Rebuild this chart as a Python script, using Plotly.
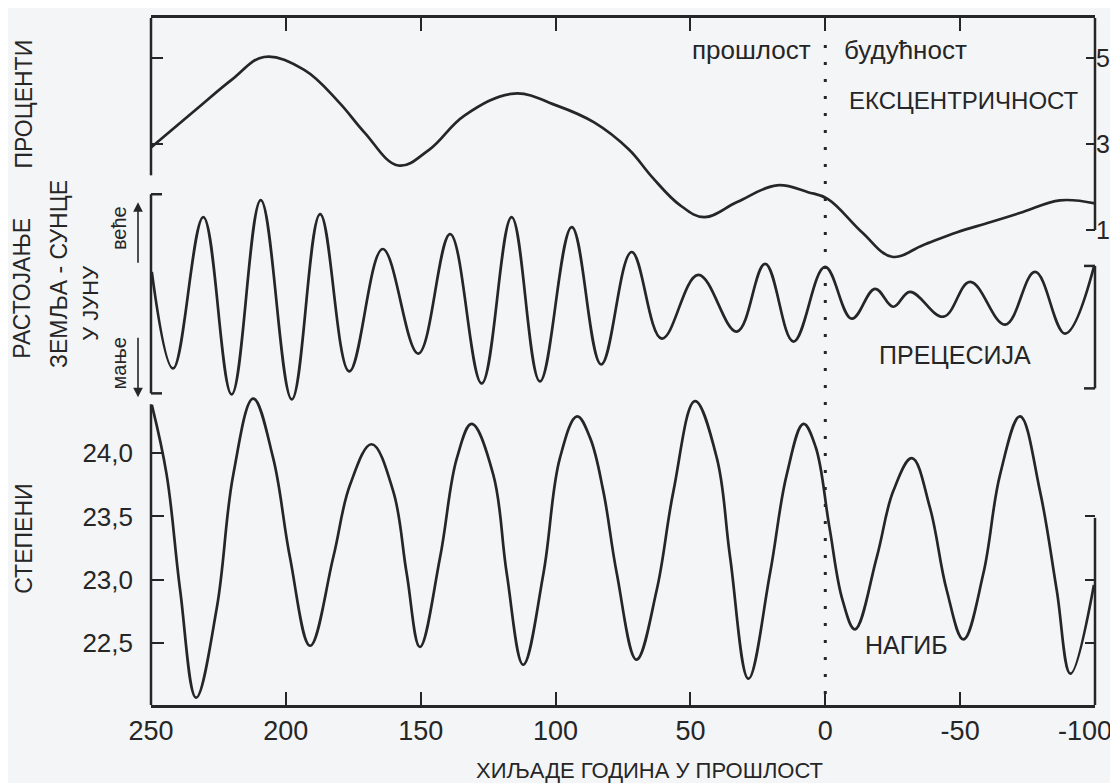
import plotly.graph_objects as go

# ---------------- data ----------------
x_tick_vals = [250, 200, 150, 100, 50, 0, -50, -100]
x_tick_text = ["250", "200", "150", "100", "50", "0", "-50", "-100"]

ecc_years = [250, 233.3, 219.9, 208.1, 193.2, 180.2, 170.9, 158.3, 146.8, 133.8,
             115.3, 99.5, 85.7, 72.8, 64.2, 53.9, 44.9, 32.7, 17.9, 6.4, -1.0,
             -13.6, -24.8, -36.2, -48.9, -61.1, -73.3, -87.0, -100]
ecc_values = [2.92, 3.80, 4.50, 5.02, 4.72, 3.96, 3.27, 2.50, 2.87, 3.66,
              4.17, 3.89, 3.50, 2.87, 2.23, 1.58, 1.30, 1.65, 2.04, 1.88, 1.72,
              0.95, 0.38, 0.65, 0.95, 1.18, 1.42, 1.69, 1.62]
ecc_ticks = [1, 3, 5]

prec_years = [249.7, 241.8, 230.6, 220.1, 209.3, 197.8, 187.3, 176.5, 164.1, 150.9,
              139.1, 127.4, 116.3, 105.8, 94.0, 83.1, 71.8, 60.6, 47.1, 32.8,
              22.3, 11.8, 0.1, -9.8, -18.4, -25.2, -31.4, -43.8, -53.7, -66.7,
              -77.8, -88.9, -99.6]
prec_values = [0.22, -0.75, 0.77, -1.01, 0.94, -1.06, 0.80, -0.78, 0.45, -0.60,
               0.60, -0.90, 0.77, -0.88, 0.67, -0.71, 0.42, -0.45, 0.19, -0.38,
               0.30, -0.48, 0.27, -0.25, 0.05, -0.13, 0.02, -0.23, 0.12, -0.31,
               0.22, -0.40, 0.27]

obl_years = [249.7, 244.2, 239.2, 233.3, 225.6, 219.5, 212.1, 204.7, 198.5, 191.0,
             182.4, 176.2, 168.2, 160.2, 155.2, 150.3, 142.8, 136.6, 131.1, 123.1,
             118.1, 112.0, 104.5, 98.4, 92.0, 87.2, 82.3, 77.3, 70.0, 62.5,
             56.3, 48.3, 40.2, 35.3, 28.5, 20.5, 14.3, 8.1, 3.6, -1.5,
             -6.4, -11.0, -19.1, -25.2, -32.1, -38.8, -45.0, -51.2, -58.6, -64.8,
             -72.2, -79.6, -85.8, -90.9, -99.6]
obl_values = [24.38, 23.83, 22.92, 22.07, 22.78, 23.83, 24.43, 23.96, 23.18, 22.48,
              23.18, 23.75, 24.07, 23.70, 23.05, 22.47, 23.18, 23.96, 24.23, 23.83,
              23.05, 22.33, 23.05, 23.96, 24.29, 24.12, 23.70, 23.05, 22.37, 22.92,
              23.70, 24.41, 23.96, 23.18, 22.22, 23.05, 23.83, 24.23, 24.05, 23.42,
              22.84, 22.61, 23.18, 23.70, 23.96, 23.57, 22.92, 22.53, 23.05, 23.83,
              24.29, 23.70, 22.92, 22.26, 22.96]
obl_ticks = [22.5, 23.0, 23.5, 24.0]
obl_tick_text = ["22,5", "23,0", "23,5", "24,0"]

# ---------------- layout geometry ----------------
# the page body has an 8px margin, so the figure is 8px smaller than the window
PAGE_W, PAGE_H, BODY = 1118, 783, 8
W, H = PAGE_W - BODY, PAGE_H - BODY
L, R, T, B = 151, 1095, 15, 705          # plot frame in window pixels
FONT = "Liberation Sans, Arial, Helvetica, sans-serif"
INK = "#262626"
BG = "#f4f5f7"


def X(px):
    return (px - L) / (R - L)


def Y(py):
    return (B - py) / (B - T)


ecc_range = [5 - (B - 55) / 43.25, 5 + (55 - T) / 43.25]
prec_range = [(292 - B) / 100, (292 - T) / 100]
obl_range = [24.0 - (B - 452) / 127.3, 24.0 + (452 - T) / 127.3]

fig = go.Figure()
line_style = dict(color=INK, width=2.7, shape="spline", smoothing=1.1)

fig.add_trace(go.Scatter(x=ecc_years, y=ecc_values, mode="lines", line=line_style,
                         yaxis="y", showlegend=False, hoverinfo="skip"))
fig.add_trace(go.Scatter(x=[None], y=[None], yaxis="y2", showlegend=False, hoverinfo="skip"))
fig.add_trace(go.Scatter(x=prec_years, y=prec_values, mode="lines", line=line_style,
                         yaxis="y3", showlegend=False, hoverinfo="skip"))
fig.add_trace(go.Scatter(x=obl_years, y=obl_values, mode="lines", line=line_style,
                         yaxis="y4", showlegend=False, hoverinfo="skip"))
fig.add_trace(go.Scatter(x=[None], y=[None], yaxis="y5", showlegend=False, hoverinfo="skip"))

tickfont = dict(family=FONT, size=27, color=INK)
common_y = dict(showgrid=False, zeroline=False, showline=False, anchor="x",
                ticks="inside", tickwidth=2, tickcolor=INK, fixedrange=True)

fig.update_layout(
    width=W, height=H,
    margin=dict(l=L - BODY, r=PAGE_W - R, t=T - BODY, b=PAGE_H - B),
    paper_bgcolor=BG, plot_bgcolor=BG,
    xaxis=dict(range=[250, -100], tickvals=x_tick_vals,
               ticktext=x_tick_text[:-1] + [""],
               ticks="inside", ticklen=13, tickwidth=2, tickcolor=INK,
               showline=True, linewidth=2.5, linecolor=INK, mirror="ticks",
               showgrid=False, zeroline=False, tickfont=tickfont,
               anchor="y", fixedrange=True),
    yaxis=dict(range=ecc_range, side="right", tickvals=ecc_ticks,
               ticktext=[str(v) for v in ecc_ticks], ticklen=9,
               tickfont=dict(family=FONT, size=25, color=INK), **common_y),
    yaxis2=dict(range=ecc_range, side="left", overlaying="y", tickvals=ecc_ticks[1:],
                showticklabels=False, ticklen=12, **common_y),
    yaxis3=dict(range=prec_range, overlaying="y", visible=False, anchor="x"),
    yaxis4=dict(range=obl_range, side="left", overlaying="y", tickvals=obl_ticks,
                ticktext=obl_tick_text, ticklen=13, ticklabelstandoff=17,
                tickfont=dict(family=FONT, size=26, color=INK), **common_y),
    yaxis5=dict(range=obl_range, side="right", overlaying="y", tickvals=obl_ticks[:3],
                showticklabels=False, ticklen=10, **common_y),
)

seg = dict(type="line", xref="paper", yref="paper",
           line=dict(color=INK, width=2.5))
shapes = [
    dict(x0=0, x1=0, y0=Y(15), y1=Y(173), **seg),
    dict(x0=0, x1=0, y0=Y(192), y1=Y(392), **seg),
    dict(x0=0, x1=X(162), y0=Y(192), y1=Y(192), **seg),
    dict(x0=0, x1=X(162), y0=Y(392), y1=Y(392), **seg),
    dict(x0=0, x1=0, y0=Y(403), y1=Y(705), **seg),
    dict(x0=1, x1=1, y0=Y(15), y1=Y(228), **seg),
    dict(x0=1, x1=1, y0=Y(264), y1=Y(387), **seg),
    dict(x0=X(1084), x1=1, y0=Y(264), y1=Y(264), **seg),
    dict(x0=X(1084), x1=1, y0=Y(387), y1=Y(387), **seg),
    dict(x0=1, x1=1, y0=Y(517), y1=Y(705), **seg),
    dict(type="line", xref="x", yref="paper", x0=0, x1=0, y0=Y(42), y1=0,
         line=dict(color=INK, width=3, dash="3px,14px")),
]
fig.update_layout(shapes=shapes)


def label(text, px, py, size=25, angle=0, xanchor="center"):
    return dict(text=text, x=X(px), y=Y(py), xref="paper", yref="paper",
                showarrow=False, textangle=angle, xanchor=xanchor, yanchor="middle",
                font=dict(family=FONT, size=size, color=INK))


annotations = [
    # last x tick label sits shifted left so that it stays inside the page
    dict(text=x_tick_text[-1], x=x_tick_vals[-1], xref="x", xshift=-10,
         y=Y(731), yref="paper", showarrow=False, xanchor="center", yanchor="middle",
         font=tickfont),
    label("прошлост", 813, 47, 26, xanchor="right"),
    label("будућност", 842, 47, 26, xanchor="left"),
    label("ЕКСЦЕНТРИЧНОСТ", 964, 98, 24),
    label("ПРЕЦЕСИЈА", 955, 353, 25),
    label("НАГИБ", 906, 645, 25),
    label("ХИЉАДЕ ГОДИНА У ПРОШЛОСТ", 649, 771, 22),
    label("ПРОЦЕНТИ", 24, 102, 23, angle=-90),
    label("РАСТОЈАЊЕ", 22, 287, 23, angle=-90),
    label("ЗЕМЉА - СУНЦЕ", 59, 272, 23, angle=-90),
    label("У ЈУНУ", 91, 301, 22, angle=-90),
    label("веће", 119, 226, 20, angle=-90),
    label("мање", 119, 362, 20, angle=-90),
    label("СТЕПЕНИ", 24, 538, 23, angle=-90),
    dict(text="", x=X(138), y=Y(200), xref="paper", yref="paper", showarrow=True,
         ax=0, ay=62, arrowhead=2, arrowsize=1.2, arrowwidth=1.6, arrowcolor=INK),
    dict(text="", x=X(138), y=Y(396), xref="paper", yref="paper", showarrow=True,
         ax=0, ay=-61, arrowhead=2, arrowsize=1.2, arrowwidth=1.6, arrowcolor=INK),
]
fig.update_layout(annotations=annotations)

fig.write_html("out.html")
